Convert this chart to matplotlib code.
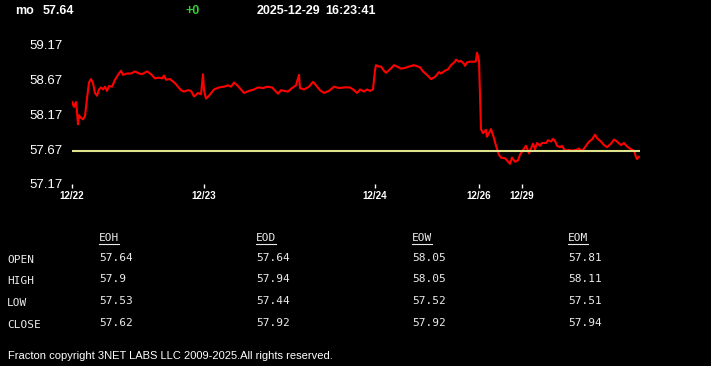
import matplotlib
matplotlib.use("Agg")
import matplotlib.pyplot as plt
from matplotlib.lines import Line2D

# header info
symbol = "mo"
last_price = 57.64
change = "+0"
date_str = "2025-12-29"
time_str = "16:23:41"

# intraday series (bar index, price)
bar_idx = [0, 2, 4, 5, 6, 7, 9, 11, 13, 15, 17, 19, 21, 23, 25, 27, 29, 31, 33, 35,
           37, 40, 43, 46, 49, 51, 55, 59, 63, 67, 70, 75, 79, 83, 87, 90, 92, 94, 98, 103,
           109, 112, 116, 119, 122, 126, 129, 131, 132, 134, 137, 142, 147, 152, 156, 159, 162, 166, 172, 177,
           182, 186, 191, 195, 200, 204, 206, 209, 212, 216, 220, 224, 225, 227, 228, 232, 237, 241, 244, 248,
           252, 257, 262, 267, 272, 278, 282, 285, 288, 292, 295, 298, 301, 303, 304, 307, 309, 312, 314, 318,
           322, 325, 329, 333, 337, 340, 341, 344, 348, 351, 355, 359, 363, 367, 369, 373, 376, 379, 383, 384,
           387, 389, 392, 393, 395, 398, 403, 404, 405, 407, 408, 409, 411, 414, 415, 419, 422, 424, 427, 429,
           433, 435, 438, 440, 443, 446, 448, 452, 454, 457, 459, 461, 463, 465, 468, 470, 474, 476, 479, 481,
           483, 485, 488, 490, 493, 497, 500, 504, 507, 510, 514, 517, 520, 523, 525, 529, 532, 535, 539, 542,
           545, 549, 552, 555, 559, 562, 564, 565, 567]
price = [58.35, 58.28, 58.35, 58.21, 58.03, 58.16, 58.12, 58.10, 58.15, 58.40, 58.63, 58.68, 58.62, 58.48, 58.44, 58.53, 58.56, 58.53, 58.57, 58.51,
         58.58, 58.57, 58.67, 58.74, 58.80, 58.74, 58.76, 58.76, 58.79, 58.76, 58.75, 58.79, 58.75, 58.69, 58.70, 58.69, 58.73, 58.67, 58.68, 58.62,
         58.52, 58.50, 58.52, 58.51, 58.43, 58.48, 58.46, 58.75, 58.52, 58.40, 58.44, 58.53, 58.56, 58.57, 58.59, 58.57, 58.63, 58.58, 58.48, 58.51,
         58.53, 58.56, 58.55, 58.57, 58.56, 58.50, 58.47, 58.52, 58.51, 58.50, 58.55, 58.59, 58.64, 58.74, 58.55, 58.53, 58.57, 58.64, 58.59, 58.52,
         58.48, 58.51, 58.57, 58.55, 58.56, 58.56, 58.52, 58.48, 58.53, 58.50, 58.53, 58.51, 58.53, 58.81, 58.88, 58.86, 58.86, 58.80, 58.77, 58.82,
         58.88, 58.86, 58.83, 58.84, 58.86, 58.87, 58.88, 58.87, 58.85, 58.79, 58.74, 58.68, 58.71, 58.78, 58.76, 58.80, 58.82, 58.88, 58.93, 58.96,
         58.93, 58.94, 58.90, 58.87, 58.92, 58.93, 58.93, 58.94, 59.06, 58.95, 58.48, 57.96, 57.90, 57.95, 57.85, 57.96, 57.83, 57.72, 57.59, 57.55,
         57.54, 57.51, 57.46, 57.55, 57.49, 57.51, 57.59, 57.68, 57.72, 57.61, 57.68, 57.75, 57.67, 57.76, 57.72, 57.76, 57.76, 57.80, 57.78, 57.82,
         57.79, 57.72, 57.70, 57.72, 57.65, 57.66, 57.65, 57.66, 57.68, 57.64, 57.72, 57.78, 57.81, 57.88, 57.83, 57.78, 57.73, 57.70, 57.75, 57.81,
         57.78, 57.73, 57.76, 57.71, 57.67, 57.65, 57.56, 57.53, 57.56]

y_ticks = [57.17, 57.67, 58.17, 58.67, 59.17]
day_idx = [0, 132, 303, 407, 450]
day_labels = ["12/22", "12/23", "12/24", "12/26", "12/29"]

# summary table
col_names = ["EOH", "EOD", "EOW", "EOM"]
row_names = ["OPEN", "HIGH", "LOW", "CLOSE"]
eoh = ["57.64", "57.9", "57.53", "57.62"]
eod = ["57.64", "57.94", "57.44", "57.92"]
eow = ["58.05", "58.05", "57.52", "57.92"]
eom = ["57.81", "58.11", "57.51", "57.94"]

W, H = 711, 366
fig = plt.figure(figsize=(W / 100, H / 100), dpi=100, facecolor="black")


def fx(px):
    return px / W


def fy(py):
    return 1 - py / H


# header line (centred on the positions seen in the reference)
hdr = dict(fontsize=9, fontweight="bold", family="Liberation Sans", va="baseline", ha="center")
fig.text(fx(25), fy(14), symbol, color="white", **hdr)
fig.text(fx(58), fy(14), f"{last_price:.2f}", color="white", **hdr)
fig.text(fx(193), fy(14), change, color="#33cc33", **hdr)
fig.text(fx(288), fy(14), date_str, color="white", **hdr)
fig.text(fx(350), fy(14), time_str, color="white", **hdr)

# chart area
ax = fig.add_axes([fx(72), fy(184), fx(568), 139 / H])
ax.set_facecolor("black")
ax.plot(bar_idx, price, color="#ff0000", linewidth=1.5, zorder=2)
ax.axhline(last_price, color="#dfe48c", linewidth=1.5, zorder=3)
ax.set_xlim(0, 568)
ax.set_ylim(y_ticks[0], y_ticks[-1])
for s in ax.spines.values():
    s.set_visible(False)
ax.set_yticks(y_ticks)
ax.set_yticklabels([f"{v:.2f}" for v in y_ticks], family="Liberation Sans", fontsize=9.5, color="white")
ax.tick_params(axis="y", length=0, pad=7)
ax.set_xticks(day_idx)
ax.set_xticklabels(day_labels, family="Liberation Sans", fontsize=7, fontweight="bold", color="white")
ax.tick_params(axis="x", length=3, width=1, color="white", direction="out", pad=2)

# table
mono = "DejaVu Sans Mono"
tcol = "#ececec"
col_x = [99, 256, 412, 568]
row_y = [260, 281, 303, 325]
val_y = [258, 279.5, 301.5, 323.5]
head_y = 238
headers = []
for x, name in zip(col_x, col_names):
    headers.append(fig.text(fx(x), fy(head_y), name, color=tcol, fontsize=8, family=mono, va="center"))
for y, name in zip(row_y, row_names):
    fig.text(fx(7), fy(y), name, color=tcol, fontsize=8, family=mono, va="center")
for x, col in zip(col_x, [eoh, eod, eow, eom]):
    for y, v in zip(val_y, col):
        fig.text(fx(x), fy(y), v, color=tcol, fontsize=8, family=mono, va="center")

fig.text(fx(8), fy(359), "Fracton copyright 3NET LABS LLC 2009-2025.All rights reserved.",
         color="white", fontsize=8, family="Liberation Sans", va="baseline")

# underline the column headers
fig.canvas.draw()
for t in headers:
    bb = t.get_window_extent()
    fig.add_artist(Line2D([bb.x0 / W, bb.x1 / W], [fy(243.5), fy(243.5)],
                          transform=fig.transFigure, color=tcol, linewidth=0.8))

fig.savefig("out.png", dpi=100, facecolor="black")
